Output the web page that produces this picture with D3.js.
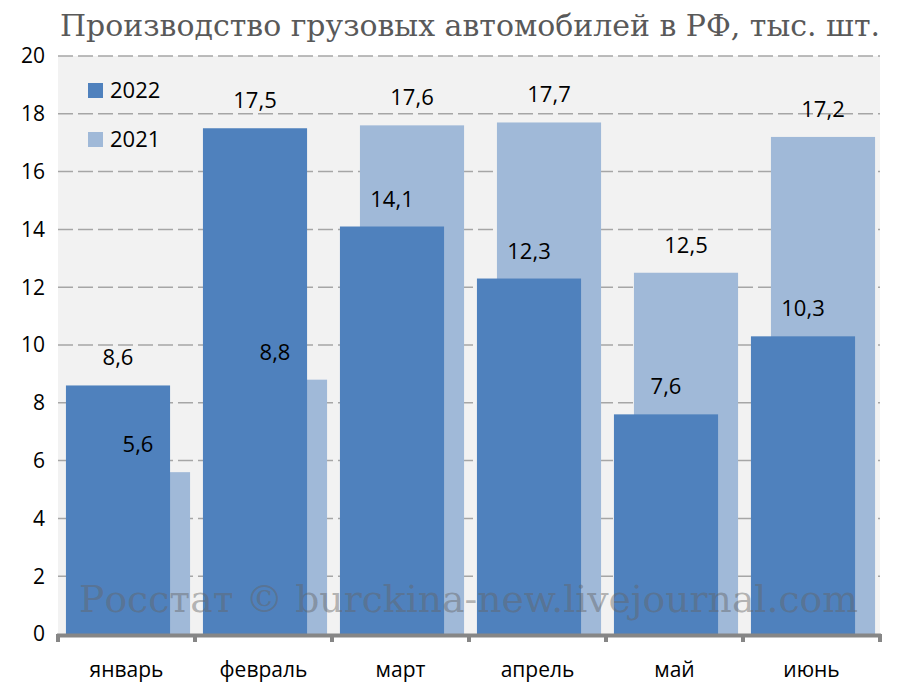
<!DOCTYPE html>
<html><head><meta charset="utf-8">
<script src="https://cdn.jsdelivr.net/npm/d3@7/dist/d3.min.js"></script>
<style>body{margin:0;background:#fff}svg{display:block}</style>
</head><body>
<svg id="c" width="900" height="693"></svg>
<script>
const months = ["январь","февраль","март","апрель","май","июнь"];
const v2022 = [8.6, 17.5, 14.1, 12.3, 7.6, 10.3];
const v2021 = [5.6, 8.8, 17.6, 17.7, 12.5, 17.2];
const yTicks = [0,2,4,6,8,10,12,14,16,18,20];
const seriesNames = ["2022","2021"];
const titleText = "Производство грузовых автомобилей в РФ, тыс. шт.";
const watermark = "Росстат © burckina-new.livejournal.com";

const svg = d3.select("#c");
const L = 58, R = 880, T = 56, B = 634;
const x = d3.scaleBand().domain(months).range([L, R]).paddingInner(0).paddingOuter(0);
const y = d3.scaleLinear().domain([0, 20]).range([B, T]);
const bw = x.bandwidth() * 0.76;
const off22 = x.bandwidth() * 0.058, off21 = x.bandwidth() * 0.204;
const c22 = "#4f81bd", c21 = "#a0b9d8";
const lab = "'Open Sans', 'Noto Sans', sans-serif";
const serif = "'DejaVu Serif Condensed', 'DejaVu Serif', serif";
const fmt = d => String(d).replace(".", ",");

svg.append("rect").attr("x", L).attr("y", T).attr("width", R - L).attr("height", B - T).attr("fill", "#f2f2f2");

// grid
svg.append("g").selectAll("line").data(yTicks.filter(d => d > 0)).join("line")
  .attr("x1", L).attr("x2", R).attr("y1", d => y(d)).attr("y2", d => y(d))
  .attr("stroke", "#a6a6a6").attr("stroke-width", 1.5).attr("stroke-dasharray", "15,5");

// bars 2021 (behind)
svg.append("g").selectAll("rect").data(months).join("rect")
  .attr("x", (m) => x(m) + off21).attr("width", bw)
  .attr("y", (m, i) => y(v2021[i])).attr("height", (m, i) => B - y(v2021[i]))
  .attr("fill", c21);
// bars 2022
svg.append("g").selectAll("rect").data(months).join("rect")
  .attr("x", (m) => x(m) + off22).attr("width", bw)
  .attr("y", (m, i) => y(v2022[i])).attr("height", (m, i) => B - y(v2022[i]))
  .attr("fill", c22);

// labels
svg.append("g").selectAll("text").data(months).join("text")
  .attr("x", m => x(m) + off21 + bw / 2).attr("y", (m, i) => y(v2021[i]) - 20)
  .attr("text-anchor", "middle").attr("font-family", lab).attr("font-size", 22).attr("fill", "#000")
  .text((m, i) => fmt(v2021[i]));
svg.append("g").selectAll("text").data(months).join("text")
  .attr("x", m => x(m) + off22 + bw / 2).attr("y", (m, i) => y(v2022[i]) - 20)
  .attr("text-anchor", "middle").attr("font-family", lab).attr("font-size", 22).attr("fill", "#000")
  .text((m, i) => fmt(v2022[i]));

// watermark
svg.append("text").attr("x", 79).attr("y", 612).attr("font-family", serif)
  .attr("font-size", 38).attr("fill", "#646464").attr("fill-opacity", 0.45)
  .attr("textLength", 779).attr("lengthAdjust", "spacingAndGlyphs")
  .text(watermark);

// y axis labels
svg.append("g").selectAll("text").data(yTicks).join("text")
  .attr("x", 45).attr("y", d => y(d)).attr("dy", "0.35em").attr("text-anchor", "end")
  .attr("font-family", lab).attr("font-size", 21).attr("fill", "#000").text(d => d);

// x axis
const xa = svg.append("g");
xa.append("line").attr("x1", L - 1).attr("x2", R + 1).attr("y1", B + 1.5).attr("y2", B + 1.5)
  .attr("stroke", "#868686").attr("stroke-width", 4);
const bounds = months.map(m => x(m)).concat([R]);
xa.selectAll("line.t").data(bounds).join("line").attr("class", "t")
  .attr("x1", d => d).attr("x2", d => d).attr("y1", B).attr("y2", B + 8)
  .attr("stroke", "#868686").attr("stroke-width", 4);
xa.selectAll("text").data(months).join("text")
  .attr("x", m => x(m) + x.bandwidth() / 2).attr("y", 677).attr("text-anchor", "middle")
  .attr("font-family", lab).attr("font-size", 21).attr("fill", "#000").text(m => m);

// legend
const lg = svg.append("g");
seriesNames.forEach((s, i) => {
  lg.append("rect").attr("x", 88).attr("y", 83 + i * 49).attr("width", 15).attr("height", 15)
    .attr("fill", i === 0 ? c22 : c21);
  lg.append("text").attr("x", 110).attr("y", 98 + i * 49).attr("font-family", lab)
    .attr("font-size", 22).attr("fill", "#000").text(s);
});

// title
svg.append("text").attr("x", 60).attr("y", 36).attr("font-family", serif)
  .attr("font-size", 30).attr("fill", "#595959").attr("textLength", 820).attr("lengthAdjust", "spacingAndGlyphs")
  .text(titleText);
</script>
</body></html>
